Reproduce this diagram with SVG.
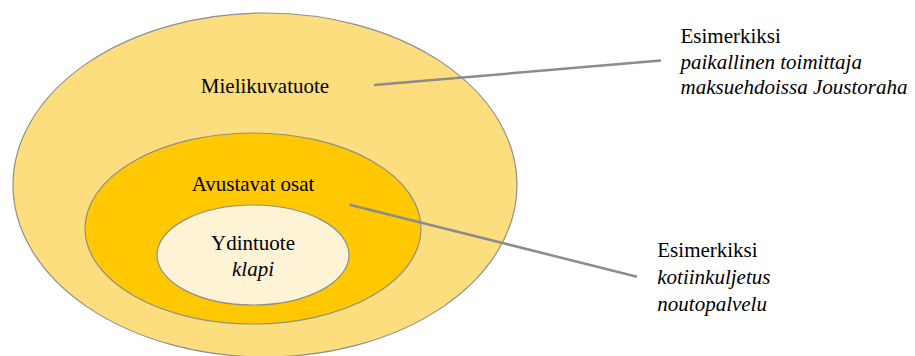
<svg xmlns="http://www.w3.org/2000/svg" width="915" height="356" viewBox="0 0 915 356">
<style>
.e{stroke:#8e8e8e;stroke-width:1.2}
text{font-family:'Liberation Serif','DejaVu Serif',serif;font-size:21px;fill:#000}
.c{text-anchor:middle}
.i{font-style:italic}
.ln{stroke:#8c8c8c;stroke-width:2.5;fill:none}
</style>
<rect width="915" height="356" fill="#fff"/>
<g id="mielikuvatuote">
<ellipse class="e" cx="265" cy="185" rx="252" ry="172" fill="#fdde7e"/>
<text class="c" x="265" y="93">Mielikuvatuote</text>
</g>
<g id="avustavat">
<ellipse class="e" cx="253" cy="228.5" rx="168" ry="95.5" fill="#ffc800"/>
<text class="c" x="253" y="191">Avustavat osat</text>
</g>
<g id="ydintuote">
<ellipse class="e" cx="253" cy="255" rx="96" ry="50" fill="#fff3d6"/>
<text class="c" x="253" y="250">Ydintuote</text>
<text class="c i" x="253" y="276">klapi</text>
</g>
<g id="connectors">
<line class="ln" x1="374" y1="85" x2="661" y2="60.5"/>
<line class="ln" x1="349.5" y1="204.7" x2="637" y2="276.7"/>
</g>
<g id="esim1">
<text x="680.5" y="42.7">Esimerkiksi</text>
<text class="i" x="680.5" y="68.5">paikallinen toimittaja</text>
<text class="i" x="680.5" y="94">maksuehdoissa Joustoraha</text>
</g>
<g id="esim2">
<text x="657.3" y="257">Esimerkiksi</text>
<text class="i" x="657.3" y="284">kotiinkuljetus</text>
<text class="i" x="657.3" y="311">noutopalvelu</text>
</g>
</svg>
